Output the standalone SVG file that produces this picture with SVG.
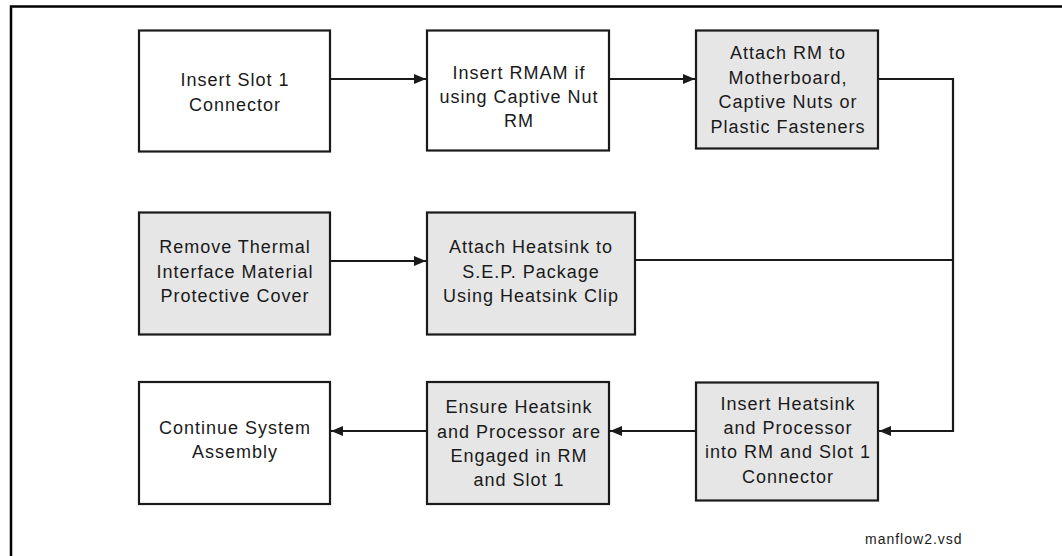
<svg xmlns="http://www.w3.org/2000/svg" width="1062" height="556" viewBox="0 0 1062 556">
<style>
.box{stroke:#1a1a1a;stroke-width:2.2}
.w{fill:#ffffff}
.g{fill:#e6e6e6}
.t{font-family:"Liberation Sans",Arial,sans-serif;font-size:18px;letter-spacing:1px;fill:#1a1a1a;text-anchor:middle}
.c{fill:none;stroke:#1a1a1a;stroke-width:2.2}
.frame{fill:none;stroke:#000;stroke-width:2.5}
</style>
<defs>
<marker id="ah" markerWidth="12" markerHeight="10" refX="12" refY="5" orient="auto" markerUnits="userSpaceOnUse">
<path d="M0,0 L12,5 L0,10 Z" fill="#1a1a1a"/>
</marker>
</defs>
<rect width="1062" height="556" fill="#fff"/>
<path class="frame" d="M11,556 V6.5 H1062"/>
<g id="connectors">
<path class="c" d="M330,79 H426" marker-end="url(#ah)"/>
<path class="c" d="M609,79 H695" marker-end="url(#ah)"/>
<path class="c" d="M878,79 H953 V431 H879" marker-end="url(#ah)"/>
<path class="c" d="M330,261 H426" marker-end="url(#ah)"/>
<path class="c" d="M635,260 H953"/>
<path class="c" d="M696,431 H610" marker-end="url(#ah)"/>
<path class="c" d="M427,431 H331" marker-end="url(#ah)"/>
</g>
<g id="n1"><rect class="box w" x="139" y="30.5" width="191" height="121"/>
<text class="t" x="235" y="86">Insert Slot 1</text><text class="t" x="235" y="111">Connector</text></g>
<g id="n2"><rect class="box w" x="427" y="30.5" width="182" height="120"/>
<text class="t" x="519" y="79">Insert RMAM if</text><text class="t" x="519" y="103">using Captive Nut</text><text class="t" x="519" y="127">RM</text></g>
<g id="n3"><rect class="box g" x="696" y="30.5" width="182" height="118"/>
<text class="t" x="788" y="59">Attach RM to</text><text class="t" x="788" y="84">Motherboard,</text><text class="t" x="788" y="108">Captive Nuts or</text><text class="t" x="788" y="133">Plastic Fasteners</text></g>
<g id="n4"><rect class="box g" x="139" y="212.5" width="191" height="122"/>
<text class="t" x="235" y="253">Remove Thermal</text><text class="t" x="235" y="278">Interface Material</text><text class="t" x="235" y="302">Protective Cover</text></g>
<g id="n5"><rect class="box g" x="427" y="212.5" width="208" height="122"/>
<text class="t" x="531" y="253">Attach Heatsink to</text><text class="t" x="531" y="278">S.E.P. Package</text><text class="t" x="531" y="302">Using Heatsink Clip</text></g>
<g id="n6"><rect class="box w" x="139" y="382" width="191" height="122"/>
<text class="t" x="235" y="434">Continue System</text><text class="t" x="235" y="458">Assembly</text></g>
<g id="n7"><rect class="box g" x="427" y="382" width="182" height="122"/>
<text class="t" x="519" y="413">Ensure Heatsink</text><text class="t" x="519" y="438">and Processor are</text><text class="t" x="519" y="462">Engaged in RM</text><text class="t" x="519" y="486">and Slot 1</text></g>
<g id="n8"><rect class="box g" x="696" y="382.5" width="182" height="118"/>
<text class="t" x="788" y="410">Insert Heatsink</text><text class="t" x="788" y="434">and Processor</text><text class="t" x="788" y="458">into RM and Slot 1</text><text class="t" x="788" y="483">Connector</text></g>
<text x="865" y="544" font-family="Liberation Sans,Arial,sans-serif" font-size="14" letter-spacing="1" fill="#1a1a1a">manflow2.vsd</text>
</svg>
